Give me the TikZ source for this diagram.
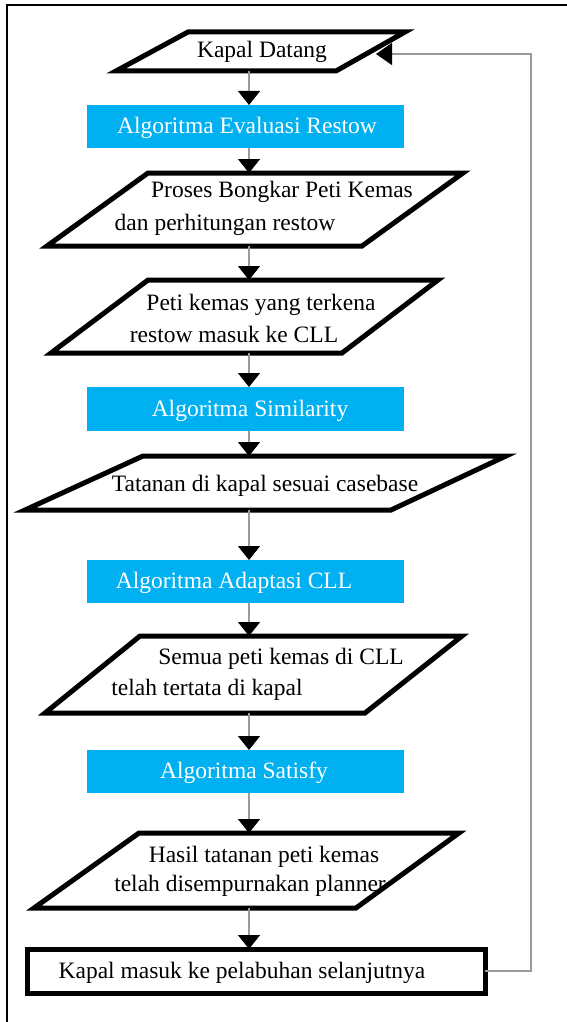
\documentclass[tikz,border=0pt]{standalone}
\usepackage{fontspec}
\setmainfont{Liberation Serif}
\usetikzlibrary{arrows.meta,fit}
\definecolor{algblue}{RGB}{0,176,240}
\definecolor{wire}{RGB}{155,155,155}
\begin{document}
\begin{tikzpicture}[x=1pt,y=-1pt,
  every node/.style={font=\fontsize{23.5}{28}\selectfont},
  txt/.style={anchor=base,inner sep=0pt},
  wtxt/.style={txt,text=white},
  algbox/.style={fill=algblue,draw=none,minimum width=317pt,outer sep=0pt,inner sep=0pt},
  iobox/.style={inner sep=0pt,outer sep=0pt},
  ioline/.style={draw=black,line width=5pt,line join=miter,fill=white},
  endbox/.style={draw=black,line width=5pt,fill=white,minimum width=458pt,minimum height=44pt,outer sep=0pt,inner sep=0pt},
  flow/.style={draw=wire,line width=1.3pt,-{Triangle[width=22pt,length=14pt,color=black]}},
  back/.style={draw=wire,line width=1.3pt,-{Triangle[width=22pt,length=16pt,color=black]}}
]
\useasboundingbox (0,0) rectangle (567,1022);
% page frame
\draw[line width=2pt] (6.5,1022) -- (6.5,5) -- (567,5);

% vertical spine of the flow and the return path
\coordinate (spine) at (249,0);
\coordinate (rc) at (531,54);
\coordinate (kdin) at (376,54);

% input / output shapes
\draw[ioline] (188,32) -- (405,32) -- (336,71) -- (116,71) -- cycle;
\node[iobox,fit={(116,32)(405,71)}] (kd) {};
\draw[ioline] (148,173) -- (463,173) -- (362,246) -- (47,246) -- cycle;
\node[iobox,fit={(47,173)(463,246)}] (p2) {};
\draw[ioline] (148,280) -- (438,280) -- (342,353) -- (51,353) -- cycle;
\node[iobox,fit={(51,280)(438,353)}] (p3) {};
\draw[ioline] (143,456) -- (506,456) -- (391,510) -- (25,510) -- cycle;
\node[iobox,fit={(25,456)(506,510)}] (p4) {};
\draw[ioline] (140,636) -- (462,636) -- (365,713) -- (45,713) -- cycle;
\node[iobox,fit={(45,636)(462,713)}] (p5) {};
\draw[ioline] (139,833) -- (459,833) -- (356,908) -- (34,908) -- cycle;
\node[iobox,fit={(34,833)(459,908)}] (p6) {};

% algorithm boxes
\node[algbox,minimum height=43pt] (b1) at (245.5,126.5) {};
\node[algbox,minimum height=44pt] (b2) at (245.5,409) {};
\node[algbox,minimum height=43pt] (b3) at (245.5,581.5) {};
\node[algbox,minimum height=43pt] (b4) at (245.5,771.5) {};

% final step
\node[endbox] (fb) at (256,971) {};

% labels
\node[txt]  (kdt) at (262,58)    {Kapal Datang};
\node[wtxt] (b1t) at (247,133.5) {Algoritma Evaluasi Restow};
\node[txt]  (p2a) at (282,197)   {Proses Bongkar Peti Kemas};
\node[txt]  (p2b) at (225,230)   {dan perhitungan restow};
\node[txt]  (p3a) at (261,310)   {Peti kemas yang terkena};
\node[txt]  (p3b) at (234,342)   {restow masuk ke CLL};
\node[wtxt] (b2t) at (250,416)   {Algoritma Similarity};
\node[txt]  (p4t) at (265,491)   {Tatanan di kapal sesuai casebase};
\node[wtxt] (b3t) at (234,588.5) {Algoritma Adaptasi CLL};
\node[txt]  (p5a) at (281,664)   {Semua peti kemas di CLL};
\node[txt]  (p5b) at (207,695)   {telah tertata di kapal};
\node[wtxt] (b4t) at (244,778.5) {Algoritma Satisfy};
\node[txt]  (p6a) at (264,862)   {Hasil tatanan peti kemas};
\node[txt]  (p6b) at (250,891)   {telah disempurnakan planner};
\node[txt]  (fbt) at (242,978)   {Kapal masuk ke pelabuhan selanjutnya};

% connectors
\draw[flow] (kd.south -| spine) -- (b1.north -| spine);
\draw[flow] (b1.south -| spine) -- (p2.north -| spine);
\draw[flow] (p2.south -| spine) -- (p3.north -| spine);
\draw[flow] (p3.south -| spine) -- (b2.north -| spine);
\draw[flow] (b2.south -| spine) -- (p4.north -| spine);
\draw[flow] (p4.south -| spine) -- (b3.north -| spine);
\draw[flow] (b3.south -| spine) -- (p5.north -| spine);
\draw[flow] (p5.south -| spine) -- (b4.north -| spine);
\draw[flow] (b4.south -| spine) -- (p6.north -| spine);
\draw[flow] (p6.south -| spine) -- (fb.north -| spine);
\draw[back] (fb.east) -| (rc) -- (kdin);
\end{tikzpicture}
\end{document}
